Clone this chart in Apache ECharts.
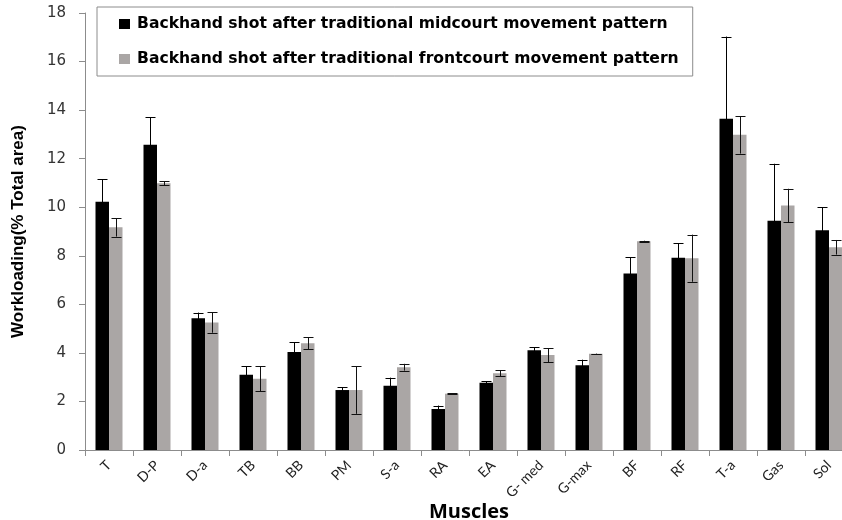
<!DOCTYPE html>
<html>
<head>
<meta charset="utf-8">
<script src="https://cdn.jsdelivr.net/npm/echarts@6/dist/echarts.min.js"></script>
<style>
  html, body { margin: 0; padding: 0; background: #fff; }
  #main { width: 842px; height: 520px; }
</style>
</head>
<body>
<div id="main"></div>
<script>
var muscles = ['T', 'D-P', 'D-a', 'TB', 'BB', 'PM', 'S-a', 'RA', 'EA', 'G- med', 'G-max', 'BF', 'RF', 'T-a', 'Gas', 'Sol'];
var midcourt = [10.23, 12.57, 5.43, 3.10, 4.04, 2.47, 2.65, 1.69, 2.77, 4.11, 3.49, 7.27, 7.92, 13.64, 9.44, 9.05];
var midcourtErr = [0.92, 1.14, 0.23, 0.35, 0.40, 0.11, 0.33, 0.14, 0.06, 0.13, 0.23, 0.66, 0.60, 3.39, 2.35, 0.95];
var frontcourt = [9.17, 10.99, 5.25, 2.93, 4.40, 2.47, 3.41, 2.32, 3.16, 3.91, 3.96, 8.60, 7.90, 12.98, 10.07, 8.35];
var frontcourtErr = [0.38, 0.08, 0.42, 0.52, 0.24, 0.98, 0.14, 0.02, 0.12, 0.29, 0.01, 0.02, 0.97, 0.77, 0.69, 0.30];
var yTicks = { min: 0, max: 18, interval: 2 };

var names = ['Backhand shot after traditional midcourt movement pattern',
             'Backhand shot after traditional frontcourt movement pattern'];
var barW = 13.5;

// 误差线
function errorSeries(vals, errs, offset, color) {
  return {
    type: 'custom',
    silent: true,
    z: 5,
    data: vals.map(function (v, i) { return [i, v - errs[i], v + errs[i]]; }),
    renderItem: function (params, api) {
      var lo = api.coord([api.value(0), api.value(1)]);
      var hi = api.coord([api.value(0), api.value(2)]);
      var x = Math.round(lo[0] + offset) + 0.5;
      var cap = 5;
      var st = { stroke: color, lineWidth: 1 };
      return {
        type: 'group',
        children: [
          { type: 'line', shape: { x1: x, y1: lo[1], x2: x, y2: hi[1] }, style: st },
          { type: 'line', shape: { x1: x - cap, y1: Math.round(hi[1]) + 0.5, x2: x + cap, y2: Math.round(hi[1]) + 0.5 }, style: st },
          { type: 'line', shape: { x1: x - cap, y1: Math.round(lo[1]) + 0.5, x2: x + cap, y2: Math.round(lo[1]) + 0.5 }, style: st }
        ]
      };
    }
  };
}

var chart = echarts.init(document.getElementById('main'), null, { renderer: 'canvas' });
var option = {
  animation: false,
  grid: { left: 85, top: 13, width: 768, bottom: 70, containLabel: false, outerBoundsMode: 'none' },
  legend: {
    orient: 'vertical',
    left: 97,
    top: 7,
    padding: [8, 14, 8, 22],
    itemGap: 17,
    itemWidth: 11,
    itemHeight: 10,
    icon: 'rect',
    borderColor: '#8c8c8c',
    borderWidth: 1,
    data: names,
    textStyle: { fontFamily: 'DejaVu Sans', fontWeight: 'bold', fontSize: 15.6, color: '#000', lineHeight: 18, padding: [0, 0, 0, 2] }
  },
  xAxis: {
    type: 'category',
    data: muscles,
    name: 'Muscles',
    nameLocation: 'middle',
    nameGap: 52,
    nameMoveOverlap: false,
    nameTextStyle: { fontFamily: 'Open Sans', fontWeight: 'bold', fontSize: 20, color: '#000' },
    axisLine: { lineStyle: { color: '#8c8c8c' } },
    axisTick: { show: true, length: 6, lineStyle: { color: '#8c8c8c' } },
    axisLabel: { rotate: 45, fontFamily: 'Lato', fontSize: 14, color: '#222', margin: 13 }
  },
  yAxis: {
    type: 'value',
    min: yTicks.min,
    max: yTicks.max,
    interval: yTicks.interval,
    name: 'Workloading(% Total area)',
    nameLocation: 'middle',
    nameRotate: 90,
    nameGap: 58,
    nameMoveOverlap: false,
    nameTextStyle: { fontFamily: 'Liberation Sans', fontWeight: 'bold', fontSize: 17, color: '#000' },
    axisLine: { show: true, lineStyle: { color: '#8c8c8c' } },
    axisTick: { show: true, length: 6, lineStyle: { color: '#8c8c8c' } },
    splitLine: { show: false },
    axisLabel: { fontFamily: 'DejaVu Sans', fontSize: 15, color: '#333', margin: 19 }
  },
  series: [
    {
      name: names[0],
      type: 'bar',
      barWidth: barW,
      barGap: '0%',
      itemStyle: { color: '#000' },
      data: midcourt
    },
    {
      name: names[1],
      type: 'bar',
      barWidth: barW,
      barGap: '0%',
      itemStyle: { color: '#aaa6a5' },
      data: frontcourt
    },
    errorSeries(midcourt, midcourtErr, -barW / 2, '#000'),
    errorSeries(frontcourt, frontcourtErr, barW / 2, '#111')
  ]
};
chart.setOption(option);
</script>
</body>
</html>
